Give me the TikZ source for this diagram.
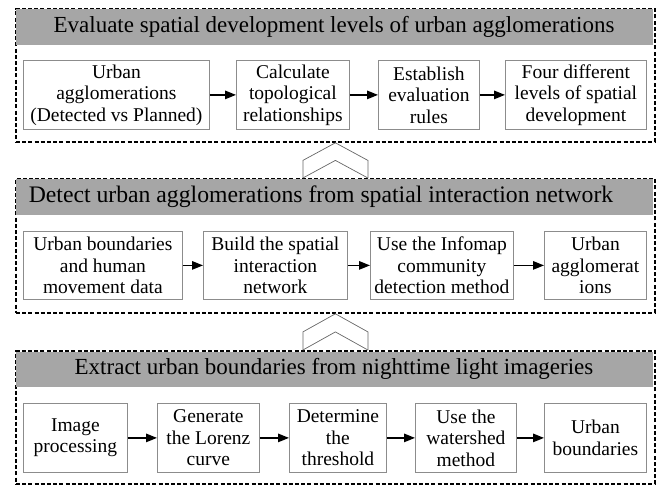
\documentclass[tikz,border=0pt]{standalone}
\usepackage{fontspec}
\setmainfont{Liberation Serif}
\usetikzlibrary{arrows.meta,calc}
\begin{document}
\begin{tikzpicture}[x=1pt,y=-1pt,
  panel/.style={draw=black,line width=1.8pt,dash pattern=on 4pt off 2.2pt,anchor=north west,inner sep=0pt,minimum width=639pt},
  header/.style={fill=black!35,anchor=north west,inner sep=0pt,minimum width=637pt,minimum height=35.5pt},
  htext/.style={font=\fontsize{23}{27}\selectfont,inner sep=0pt},
  box/.style={draw=black!45,line width=0.8pt,anchor=north west,inner sep=0pt,align=center,font=\fontsize{19.5}{21.5}\selectfont},
  arr/.style={-{Triangle[length=11pt,width=8.5pt]},line width=1.3pt},
  chev/.style={draw=black!60,line width=0.7pt}]
\useasboundingbox (0,0) rectangle (662,485);
% panels
\node[panel,minimum height=133pt] (P1) at (15,8) {};
\node[panel,minimum height=134pt] (P2) at (15,178) {};
\node[panel,minimum height=133pt] (P3) at (15,350) {};
% headers
\node[header] (H1) at (16,9) {};
\node[header] (H2) at (16,179) {};
\node[header] (H3) at (16,351.5) {};
\node[htext] (T1) at (334,26.5) {Evaluate spatial development levels of urban agglomerations};
\node[htext,font=\fontsize{23.7}{27}\selectfont] (T2) at (321,196.5) {Detect urban agglomerations from spatial interaction network};
\node[htext] (T3) at (334,369) {Extract urban boundaries from nighttime light imageries};
% panel 1 boxes
\node[box,minimum width=186pt,minimum height=69pt] (a1) at (23,60) {Urban\\agglomerations\\(Detected vs Planned)};
\node[box,minimum width=113pt,minimum height=69pt] (a2) at (236,60) {Calculate\\topological\\relationships};
\node[box,minimum width=101pt,minimum height=69pt] (a3) at (378,60) {Establish\\evaluation\\rules};
\node[box,minimum width=141pt,minimum height=69pt] (a4) at (505,60) {Four different\\levels of spatial\\development};
% panel 2 boxes
\node[box,minimum width=159pt,minimum height=68pt] (b1) at (23,231) {Urban boundaries\\and human\\movement data};
\node[box,minimum width=144pt,minimum height=68pt] (b2) at (203,231) {Build the spatial\\interaction\\network};
\node[box,minimum width=143pt,minimum height=68pt] (b3) at (370,231) {Use the Infomap\\community\\detection method};
\node[box,minimum width=102pt,minimum height=68pt] (b4) at (544,231) {Urban\\agglomerat\\ions};
% panel 3 boxes
\node[box,minimum width=104pt,minimum height=69pt] (c1) at (23,403) {Image\\processing};
\node[box,minimum width=102pt,minimum height=69pt] (c2) at (157,403) {Generate\\the Lorenz\\curve};
\node[box,minimum width=97pt,minimum height=69pt] (c3) at (289,403) {Determine\\the\\threshold};
\node[box,minimum width=101pt,minimum height=69pt] (c4) at (415,403) {Use the\\watershed\\method};
\node[box,minimum width=102pt,minimum height=69pt] (c5) at (544,403) {Urban\\boundaries};
% arrows
\draw[arr] (a1.east) -- (a2.west);
\draw[arr] (a2.east) -- (a3.west);
\draw[arr] (a3.east) -- (a4.west);
\draw[arr] (b1.east) -- (b2.west);
\draw[arr] (b2.east) -- (b3.west);
\draw[arr] (b3.east) -- (b4.west);
\draw[arr] (c1.east) -- (c2.west);
\draw[arr] (c2.east) -- (c3.west);
\draw[arr] (c3.east) -- (c4.west);
\draw[arr] (c4.east) -- (c5.west);
% chevrons
\draw[chev] ($(P2.north)+(-32.5,0)$) -- ($(P1.south)!0.5!(P2.north)+(-32.5,0)$) -- (P1.south) -- ($(P1.south)!0.5!(P2.north)+(32.5,0)$) -- ($(P2.north)+(32.5,0)$);
\draw[chev] ($(P2.north)+(-32.5,0)$) -- ($(P1.south)!0.5!(P2.north)$) -- ($(P2.north)+(32.5,0)$);
\draw[chev] ($(P3.north)+(-32.5,0)$) -- ($(P2.south)!0.5!(P3.north)+(-32.5,0)$) -- (P2.south) -- ($(P2.south)!0.5!(P3.north)+(32.5,0)$) -- ($(P3.north)+(32.5,0)$);
\draw[chev] ($(P3.north)+(-32.5,0)$) -- ($(P2.south)!0.5!(P3.north)$) -- ($(P3.north)+(32.5,0)$);
\end{tikzpicture}
\end{document}
